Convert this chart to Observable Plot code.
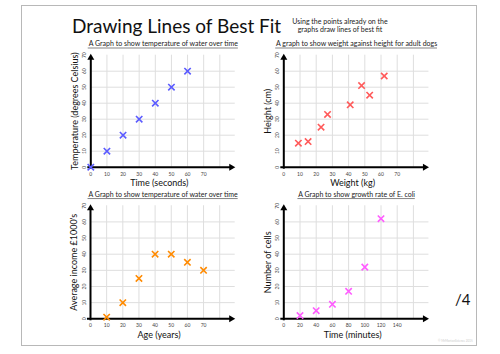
<!DOCTYPE html>
<html><head><meta charset="utf-8">
<script src="https://cdn.jsdelivr.net/npm/d3@7"></script>
<script src="https://cdn.jsdelivr.net/npm/@observablehq/plot@0.6"></script>
<style>
body{margin:0;background:#fff;}
#page{position:relative;width:500px;height:354px;overflow:hidden;font-family:Lato,"Open Sans",sans-serif;color:#111;}
#frame{position:absolute;left:21px;top:5px;width:456px;height:341px;border:1px solid #b8b8b8;box-sizing:border-box;}
.t{position:absolute;white-space:nowrap;line-height:1;}
.chart{position:absolute;}
.chart svg{background:transparent!important;overflow:visible;}
</style></head><body>
<div id="page">
  <div id="frame"></div>
  <div class="t" id="mainTitle" style="left:72px;top:16px;font-size:19px;">Drawing Lines of Best Fit</div>
  <div class="t" style="left:280px;width:120px;top:16.5px;font-size:7px;text-align:center;line-height:8.3px;white-space:normal;color:#222;">Using the points already on the<br>graphs draw lines of best fit</div>
  <div class="t" style="left:455px;top:292px;font-size:15px;">/4</div>
  <div class="t" style="left:438px;top:340px;font-size:3px;color:#ccc;">© MrMortonScience 2015</div>
</div>
<script>
// ---- data ----
const waterTime = [0, 10, 20, 30, 40, 50, 60];
const waterTemp = [0, 10, 20, 30, 40, 50, 60];

const dogWeight = [9, 15, 23, 27, 41, 48, 53, 62];
const dogHeight = [15, 16, 25, 33, 39, 51, 45, 57];

const age = [10, 20, 30, 40, 50, 60, 70];
const income = [1, 10, 25, 40, 40, 35, 30];

const ecoliTime = [20, 40, 60, 80, 100, 120];
const ecoliCells = [2, 5, 9, 17, 32, 62];

// ---- tick labels / grid ----
const ticks70 = [0, 10, 20, 30, 40, 50, 60, 70];
const ticks140 = [0, 20, 40, 60, 80, 100, 120, 140];
const gridX80 = [10, 20, 30, 40, 50, 60, 70, 80];
const gridX160 = [20, 40, 60, 80, 100, 120, 140, 160];
const gridY = [10, 20, 30, 40, 50, 60];

const FONT = "Lato, 'Open Sans', sans-serif";
const measureCtx = document.createElement("canvas").getContext("2d");

function chart(o) {
  const data = o.xs.map((x, i) => ({x, y: o.ys[i]}));
  const xEnd = o.xMax * 1.12;
  const titleSize = 7, titleDx = 8, titleDy = -11;
  // underline extent for the chart title, through a Plot scale
  measureCtx.font = `${titleSize}px ${FONT}`;
  const tw = measureCtx.measureText(o.title).width;
  const xs = Plot.scale({x: {domain: [0, o.xMax], range: [o.mL, o.width - o.mR]}});
  const cpx = (o.mL + o.width - o.mR) / 2 + titleDx;
  const u1 = xs.invert(cpx - tw / 2), u2 = xs.invert(cpx + tw / 2);

  const plot = Plot.plot({
    width: o.width, height: o.height,
    marginLeft: o.mL, marginRight: o.mR, marginTop: o.mT, marginBottom: o.mB,
    x: {domain: [0, o.xMax], axis: null},
    y: {domain: [0, o.yMax], axis: null},
    style: {fontFamily: FONT, background: "transparent", overflow: "visible"},
    marks: [
      Plot.ruleX(o.gridX, {x: d => d, y1: () => 0, y2: () => o.yMax, stroke: "#dedede", strokeWidth: 1}),
      Plot.ruleY(o.gridY, {y: d => d, x1: () => 0, x2: () => xEnd, stroke: "#dedede", strokeWidth: 1}),
      Plot.ruleY([0], {y: d => d, x1: () => 0, x2: () => xEnd, stroke: "#000", strokeWidth: 2, dx: -3}),
      Plot.ruleX([0], {x: d => d, y1: () => 0, y2: () => o.yMax, stroke: "#000", strokeWidth: 2, dy: 2}),
      Plot.dot([0], {x: () => xEnd, y: () => 0, symbol: "triangle", rotate: 90, fill: "#000", r: 2.6, dx: -4}),
      Plot.dot([0], {x: () => 0, y: () => o.yMax, symbol: "triangle", fill: "#000", r: 2.6, dy: 2.5}),
      Plot.text(o.xTicks, {x: d => d, y: () => 0, text: d => String(d), dy: 7, fontSize: 5, fill: "#444"}),
      Plot.text(o.yTicks, {x: () => 0, y: d => d, text: d => String(d), dx: -6, rotate: -90, fontSize: 5, fill: "#444"}),
      Plot.dot(data, {x: "x", y: "y", symbol: "times", stroke: o.color, r: 3, strokeWidth: 1.6}),
      Plot.text([o.xLabel], {text: d => d, frameAnchor: "bottom", textAnchor: "middle", lineAnchor: "middle", dy: 16, dx: 4, fontSize: 9, fill: "#111"}),
      Plot.text([o.yLabel], {text: d => d, frameAnchor: "left", textAnchor: "middle", lineAnchor: "middle", rotate: -90, dx: -16, fontSize: 9, fill: "#111"}),
      Plot.text([o.title], {text: d => d, frameAnchor: "top", textAnchor: "middle", lineAnchor: "middle", dy: titleDy, dx: titleDx, fontSize: titleSize, fill: "#222"}),
      Plot.ruleY([o.yMax], {y: d => d, x1: () => u1, x2: () => u2, dy: titleDy + 3.8, stroke: "#333", strokeWidth: 0.6})
    ]
  });
  const holder = document.createElement("div");
  holder.className = "chart";
  holder.style.left = o.left + "px";
  holder.style.top = o.top + "px";
  holder.appendChild(plot);
  document.getElementById("page").appendChild(holder);
}

chart({xs: waterTime, ys: waterTemp, xMax: 80, yMax: 70, xTicks: ticks70, yTicks: ticks70, gridX: gridX80, gridY,
  color: "#5b5bff", title: "A Graph to show temperature of water over time", xLabel: "Time (seconds)",
  yLabel: "Temperature (degrees Celsius)", left: 55, top: 32, width: 195, height: 160, mL: 35.3, mR: 30.7, mT: 22.7, mB: 25.3});

chart({xs: dogWeight, ys: dogHeight, xMax: 80, yMax: 70, xTicks: ticks70, yTicks: ticks70, gridX: gridX80, gridY,
  color: "#ff5a5a", title: "A graph to show weight against height for adult dogs", xLabel: "Weight (kg)",
  yLabel: "Height (cm)", left: 255, top: 32, width: 195, height: 160, mL: 28.3, mR: 37.1, mT: 22.7, mB: 25.3});

chart({xs: age, ys: income, xMax: 80, yMax: 70, xTicks: ticks70, yTicks: ticks70, gridX: gridX80, gridY,
  color: "#ff8a00", title: "A Graph to show temperature of water over time", xLabel: "Age (years)",
  yLabel: "Average income £1000's", left: 55, top: 184, width: 195, height: 162, mL: 35, mR: 30.8, mT: 21.25, mB: 27.7});

chart({xs: ecoliTime, ys: ecoliCells, xMax: 160, yMax: 70, xTicks: ticks140, yTicks: ticks70, gridX: gridX160, gridY,
  color: "#ff5cff", title: "A Graph to show growth rate of E. coli", xLabel: "Time (minutes)",
  yLabel: "Number of cells", left: 255, top: 184, width: 195, height: 162, mL: 28.3, mR: 37.1, mT: 21.25, mB: 27.7});
</script>
</body></html>
